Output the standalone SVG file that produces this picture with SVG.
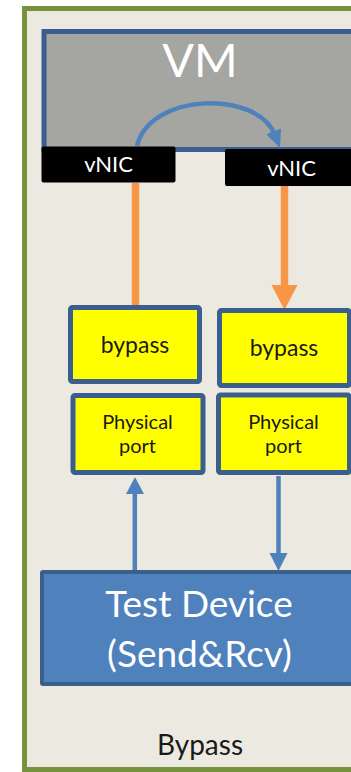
<svg xmlns="http://www.w3.org/2000/svg" width="351" height="772" viewBox="0 0 351 772">
  <style>
    .frame { fill: #ECEAE0; stroke: #76923C; stroke-width: 5; }
    .vm { fill: #A5A5A1; stroke: #3A5F8E; stroke-width: 5; }
    .nic { fill: #000000; }
    .box { fill: #FFFF00; stroke: #3A5F8E; stroke-width: 5; }
    .dev { fill: #4F81BD; stroke: #3A5F8B; stroke-width: 4; }
    .t { font-family: Lato, "Liberation Sans", sans-serif; text-anchor: middle; }
    .w { fill: #FFFFFF; }
    .k { fill: #1A1A1A; }
    .orange { stroke: #F79646; stroke-width: 7.5; fill: none; }
    .blue { stroke: #4F81BD; stroke-width: 4.5; fill: none; }
  </style>
  <defs>
    <marker id="arcHead" markerUnits="userSpaceOnUse" markerWidth="20" markerHeight="20" refX="4" refY="10" orient="auto">
      <path d="M0,2 L18,10 L0,18 Z" fill="#4F81BD"/>
    </marker>
  </defs>

  <rect width="351" height="772" fill="#FFFFFF"/>

  <!-- outer frame -->
  <rect class="frame" x="24.5" y="8.5" width="340" height="761"/>

  <!-- VM -->
  <g id="vm">
    <rect class="vm" x="44" y="31.5" width="320" height="118"/>
    <text class="t w" x="200" y="77" font-size="47">VM</text>
  </g>

  <!-- connectors -->
  <g id="connectors">
    <path class="blue" d="M137,146 C150,92 258,90 275,135" marker-end="url(#arcHead)"/>
    <line class="orange" x1="135.5" y1="183" x2="135.5" y2="308"/>
    <line class="orange" x1="284.5" y1="186" x2="284.5" y2="287"/>
    <polygon points="271.5,285 297.5,285 284.5,310" fill="#F79646"/>
    <line class="blue" x1="134.8" y1="572" x2="134.8" y2="492"/>
    <polygon points="126,494 144,494 135,477" fill="#4F81BD"/>
    <line class="blue" x1="278.5" y1="476" x2="278.5" y2="555"/>
    <polygon points="269.5,553 287.5,553 278.5,571" fill="#4F81BD"/>
  </g>

  <g id="vnic-left">
    <rect class="nic" x="41.5" y="146.5" width="134" height="36" rx="2"/>
    <text class="t w" x="108.5" y="172" font-size="22">vNIC</text>
  </g>
  <g id="vnic-right">
    <rect class="nic" x="225" y="149" width="140" height="37" rx="2"/>
    <text class="t w" x="291.5" y="175.5" font-size="22">vNIC</text>
  </g>

  <g id="bypass-left">
    <rect class="box" x="70.5" y="307.5" width="129" height="74" rx="2"/>
    <text class="t k" x="135" y="353" font-size="23">bypass</text>
  </g>
  <g id="bypass-right">
    <rect class="box" x="219.5" y="310.5" width="130" height="75" rx="2"/>
    <text class="t k" x="284" y="356" font-size="23">bypass</text>
  </g>

  <g id="port-left">
    <rect class="box" x="73" y="395.5" width="130" height="77" rx="2"/>
    <text class="t k" x="137.5" y="428.5" font-size="20">Physical</text>
    <text class="t k" x="137.5" y="452.5" font-size="20">port</text>
  </g>
  <g id="port-right">
    <rect class="box" x="218.5" y="395" width="131" height="77.5" rx="2"/>
    <text class="t k" x="283.5" y="428.5" font-size="20">Physical</text>
    <text class="t k" x="283.5" y="452.5" font-size="20">port</text>
  </g>

  <g id="test-device">
    <rect class="dev" x="42" y="572" width="322" height="112" rx="1"/>
    <text class="t w" x="199" y="617" font-size="37">Test Device</text>
    <text class="t w" x="199.5" y="667" font-size="37">(Send&amp;Rcv)</text>
  </g>

  <text id="caption" class="t k" x="200" y="755" font-size="28">Bypass</text>
</svg>
